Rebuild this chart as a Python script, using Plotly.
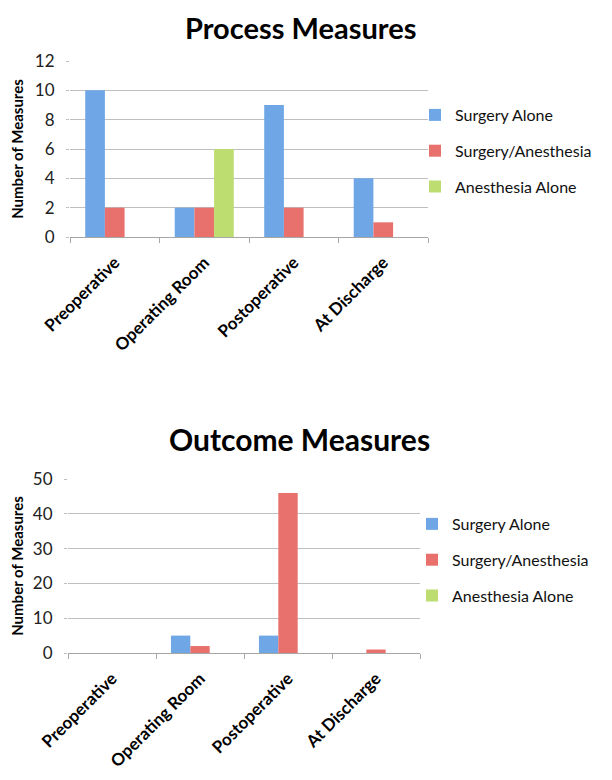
import plotly.graph_objects as go

categories = ["Preoperative", "Operating Room", "Postoperative", "At Discharge"]
series_names = ["Surgery Alone", "Surgery/Anesthesia", "Anesthesia Alone"]
process_surgery = [10, 2, 9, 4]
process_both = [2, 2, 2, 1]
process_anesthesia = [0, 6, 0, 0]
outcome_surgery = [0, 5, 5, 0]
outcome_both = [0, 2, 46, 1]
outcome_anesthesia = [0, 0, 0, 0]
process_ticks = [0, 2, 4, 6, 8, 10, 12]
outcome_ticks = [0, 10, 20, 30, 40, 50]

colors = ["#6fa6e6", "#e8716e", "#bddd70"]
FONT = "Lato"

fig = go.Figure()
process = [process_surgery, process_both, process_anesthesia]
outcome = [outcome_surgery, outcome_both, outcome_anesthesia]
for i, name in enumerate(series_names):
    fig.add_trace(go.Bar(x=categories, y=process[i], name=name, marker_color=colors[i],
                         marker_line_width=0, xaxis="x", yaxis="y", legend="legend",
                         legendgroup="p%d" % i))
for i, name in enumerate(series_names):
    fig.add_trace(go.Bar(x=categories, y=outcome[i], name=name, marker_color=colors[i],
                         marker_line_width=0, xaxis="x2", yaxis="y2", legend="legend2",
                         legendgroup="o%d" % i))

W, H = 612, 780
OFF = 8  # page body margin
def px(x0, x1):
    return [(x0 - OFF) / W, (x1 - OFF) / W]
def py(top, bottom):
    return [1 - (bottom - OFF) / H, 1 - (top - OFF) / H]

xcommon = dict(type="category", showgrid=False, showline=True, linecolor="#a6a6a6",
               linewidth=1, ticks="outside", tickson="boundaries", ticklen=5,
               tickcolor="#a6a6a6", tickangle=-45, automargin=False,
               ticklabelstandoff=8,
               tickfont=dict(family=FONT, size=17, color="#000000", weight="bold"))
ycommon = dict(showgrid=True, gridcolor="#bfbfbf", gridwidth=1, showline=False,
               zeroline=False, ticks="outside", ticklen=3, tickcolor="#bfbfbf",
               automargin=False, ticklabelstandoff=8,
               tickfont=dict(family=FONT, size=17, color="#222222"),
               title=dict(text="Number of Measures",
                          font=dict(family=FONT, size=15, color="#000000", weight="bold"),
                          standoff=8))

legend_common = dict(xanchor="left", yanchor="top",
                     font=dict(family=FONT, size=16, color="#111111"),
                     traceorder="grouped", tracegroupgap=12, itemwidth=30,
                     bgcolor="rgba(0,0,0,0)")

fig.update_layout(
    width=W, height=H,
    margin=dict(l=0, r=0, t=0, b=0),
    paper_bgcolor="white", plot_bgcolor="white",
    barmode="group", bargap=0.34, bargroupgap=0,
    xaxis=dict(domain=px(70, 428), anchor="y", **xcommon),
    yaxis=dict(domain=py(61, 237), anchor="x", range=[0, 12], tickvals=process_ticks, **ycommon),
    xaxis2=dict(domain=px(68, 420), anchor="y2", **xcommon),
    yaxis2=dict(domain=py(479, 653), anchor="x2", range=[0, 50], tickvals=outcome_ticks, **ycommon),
    legend=dict(x=407 / W, y=1 - 90 / H, **legend_common),
    legend2=dict(x=404 / W, y=1 - 499 / H, **legend_common),
    annotations=[
        dict(text="<b>Process Measures</b>", x=(300 - OFF) / W, y=1 - (27 - OFF) / H,
             xref="paper", yref="paper", xanchor="center", yanchor="middle",
             showarrow=False, font=dict(family=FONT, size=29, color="#000000")),
        dict(text="<b>Outcome Measures</b>", x=(299 - OFF) / W, y=1 - (439 - OFF) / H,
             xref="paper", yref="paper", xanchor="center", yanchor="middle",
             showarrow=False, font=dict(family=FONT, size=30, color="#000000")),
    ],
)

fig.write_html("out.html")
